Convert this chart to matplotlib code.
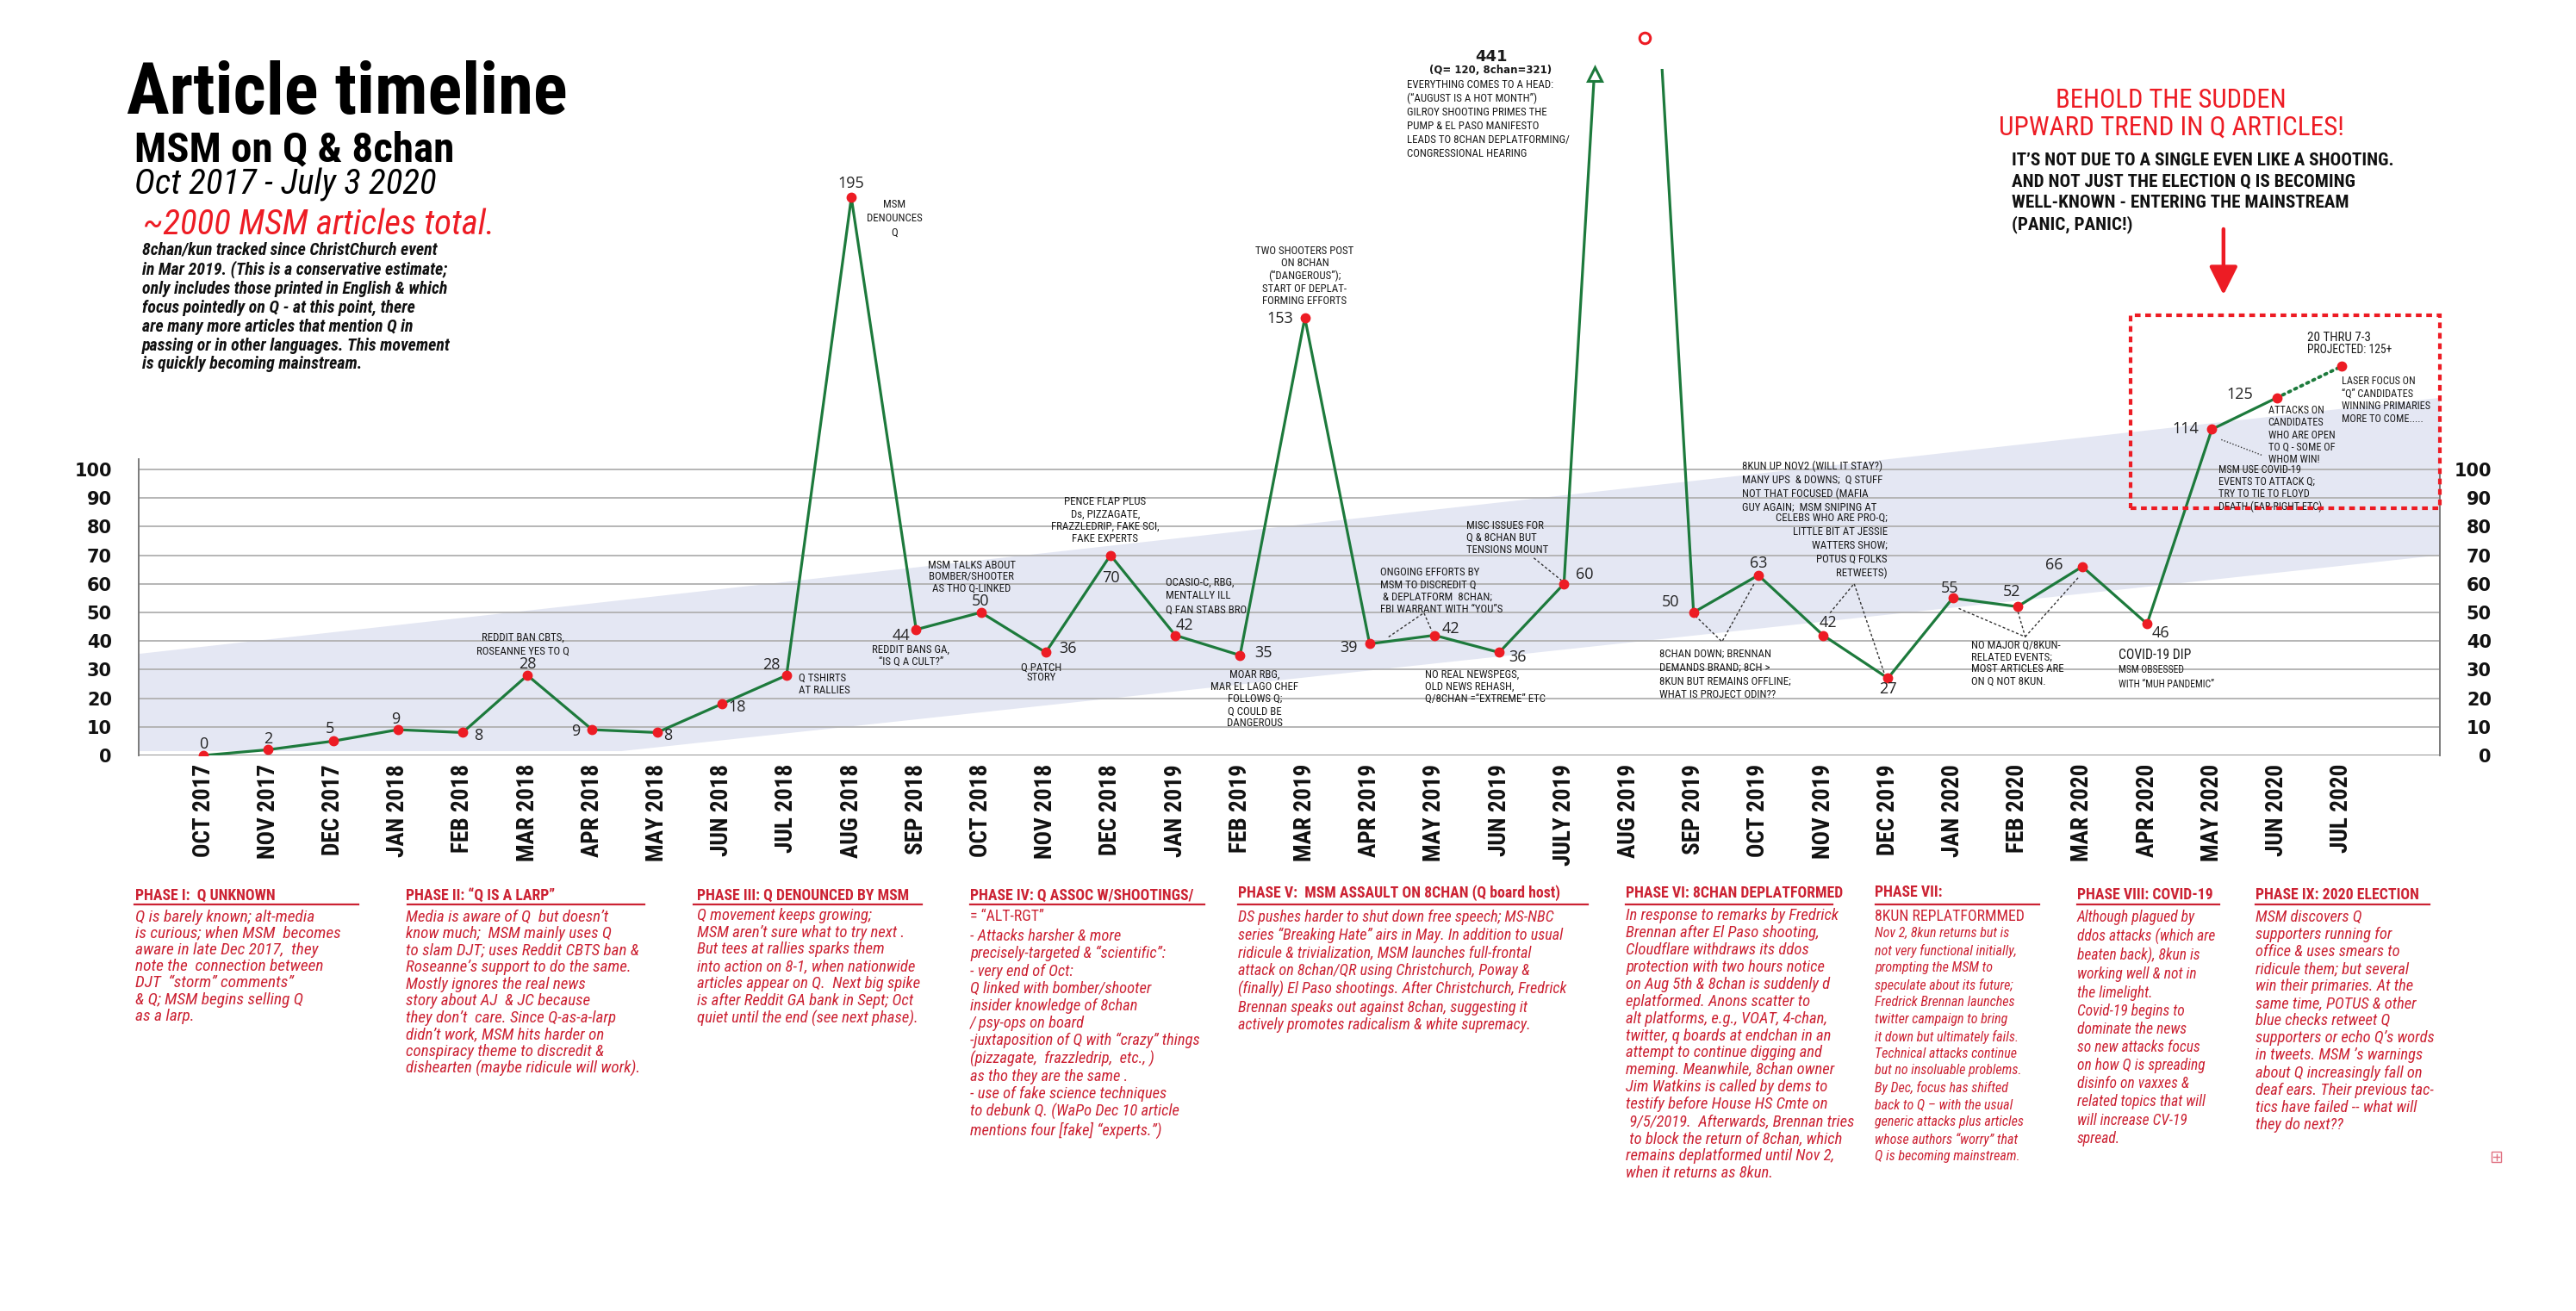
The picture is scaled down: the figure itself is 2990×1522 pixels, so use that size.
import os
import matplotlib
matplotlib.use("Agg")
import matplotlib.pyplot as plt
from matplotlib import font_manager
from matplotlib.font_manager import FontProperties
from matplotlib.patches import Polygon, Rectangle
from matplotlib.lines import Line2D
import matplotlib.transforms as mtransforms

# ----------------------------- data -----------------------------
months = ["OCT 2017", "NOV 2017", "DEC 2017", "JAN 2018", "FEB 2018", "MAR 2018",
          "APR 2018", "MAY 2018", "JUN 2018", "JUL 2018", "AUG 2018", "SEP 2018",
          "OCT 2018", "NOV 2018", "DEC 2018", "JAN 2019", "FEB 2019", "MAR 2019",
          "APR 2019", "MAY 2019", "JUN 2019", "JULY 2019", "AUG 2019", "SEP 2019",
          "OCT 2019", "NOV 2019", "DEC 2019", "JAN 2020", "FEB 2020", "MAR 2020",
          "APR 2020", "MAY 2020", "JUN 2020", "JUL 2020"]
articles = [0, 2, 5, 9, 8, 28, 9, 8, 18, 28, 195, 44, 50, 36, 70, 42, 35, 153,
            39, 42, 36, 60, 441, 50, 63, 42, 27, 55, 52, 66, 46, 114, 125]
projected = 136                     # JUL 2020 projection ("125+")
yticks = [0, 10, 20, 30, 40, 50, 60, 70, 80, 90, 100]
band_upper = [35.5, 125]            # shaded trend channel: upper edge left / right
band_lower = [1.5, 1.5, 70]         # lower edge: left, knee, right
band_knee = 6.45

# ----------------------------- fonts -----------------------------
def _w(f):
    w = f.weight
    if isinstance(w, str):
        w = font_manager.weight_dict.get(w, 400)
    return int(w)


groups = {}
for f in font_manager.fontManager.ttflist:
    base = os.path.basename(f.fname).lower()
    key = (f.name + " " + base).lower()
    flat = base.replace("-", "").replace("_", "")
    if ("condensed" in key or "narrow" in key) and "mono" not in key and "serif" not in key \
            and "semicondensed" not in flat and "extracondensed" not in flat:
        groups.setdefault(f.name, []).append(f)

chosen = None
for pref in ["Roboto Condensed", "Liberation Sans Narrow", "Fira Sans Condensed",
             "Open Sans Condensed", "Noto Sans Condensed", "Arial Narrow", "DejaVu Sans"]:
    for g in groups:
        if g.lower().startswith(pref.lower()):
            chosen = g
            break
    if chosen:
        break
if chosen is None and groups:
    chosen = sorted(groups)[0]

if chosen:
    if "roboto" in chosen.lower():
        NS = 0.98
    elif "narrow" in chosen.lower():
        NS = 1.0
    elif "dejavu" in chosen.lower():
        NS = 0.86
    else:
        NS = 0.95
else:
    NS = 0.84


def NF(size, bold=False, italic=False):
    if chosen:
        best, score = None, 1e9
        for f in groups[chosen]:
            it = f.style in ("italic", "oblique")
            sc = abs(_w(f) - (700 if bold else 400)) + (0 if it == italic else 1000)
            if sc < score:
                best, score = f, sc
        return FontProperties(fname=best.fname, size=size)
    return FontProperties(family=["Liberation Sans", "DejaVu Sans"],
                          weight="bold" if bold else "normal",
                          style="italic" if italic else "normal", size=size)


names = {f.name for f in font_manager.fontManager.ttflist}
NUMF = "Open Sans" if "Open Sans" in names else "DejaVu Sans"

W, H, DPI = 2990, 1522, 100
PT = 72.0 / DPI
RED = "#ed1c24"
PRED = "#cc2233"
GREEN = "#1d7a3c"
INK = "#1a1a1a"

fig = plt.figure(figsize=(W / DPI, H / DPI), dpi=DPI)
fig.patch.set_facecolor("white")

AX_L, AX_R, AX_B, AX_T = 161, 2832, 877, 80
ax = fig.add_axes([AX_L / W, 1 - AX_B / H, (AX_R - AX_L) / W, (AX_B - AX_T) / H])
XLIM = (-1.0, 34.52)
YLIM = (0, 240)
ax.set_xlim(*XLIM)
ax.set_ylim(*YLIM)
XS = (AX_R - AX_L) / (XLIM[1] - XLIM[0])
YS = (AX_B - AX_T) / (YLIM[1] - YLIM[0])


def fx(x):
    return x / W


def fy(y):
    return 1 - y / H


def empx(size):
    return size / PT


def lsp(step_px, size):
    return max(0.5, (step_px / empx(size) - 0.21) / 0.74)


# ----------------------------- chart body -----------------------------
band = Polygon([(XLIM[0], band_upper[0]), (XLIM[1], band_upper[1]),
                (XLIM[1], band_lower[2]), (band_knee, band_lower[1]),
                (XLIM[0], band_lower[0])], closed=True, fc="#e4e7f3", ec="none",
               zorder=0.5)
ax.add_patch(band)

for v in yticks:
    ax.axhline(v, color="#8a8a8a" if v == 0 else "#b0b0b0",
               lw=2.0 if v == 0 else 1.3, zorder=1)

for s in ["top", "bottom"]:
    ax.spines[s].set_visible(False)
ax.spines["left"].set_bounds(0, 103.5)
ax.spines["right"].set_bounds(0, 100)
for s in ["left", "right"]:
    ax.spines[s].set_color("#7a7a7a")
    ax.spines[s].set_linewidth(1.4)

idx = list(range(len(months)))
ax.set_xticks(idx)
ax.set_xticklabels(months, rotation=90, ha="center", va="top",
                   fontproperties=NF(20 * NS, bold=True), color="#111111")
ax.tick_params(axis="x", length=0, pad=10 * PT)

ax.set_yticks(yticks)
ax.set_yticklabels([str(v) for v in yticks], family="DejaVu Sans",
                   fontweight="bold", fontsize=15, color="#111111")
ax.tick_params(axis="y", length=0, pad=(AX_L - 130) * PT)

ax2 = ax.twinx()
ax2.set_ylim(*YLIM)
ax2.set_yticks(yticks)
ax2.set_yticklabels([str(v) for v in yticks], family="DejaVu Sans",
                    fontweight="bold", fontsize=15, color="#111111")
ax2.tick_params(axis="y", length=0, pad=(2892 - AX_R) * PT)
for lab in ax2.get_yticklabels():
    lab.set_ha("right")
for s in ax2.spines.values():
    s.set_visible(False)

# main series (the 441 peak runs off the top and is clipped)
n = len(articles)
ax.plot(idx[:n], articles, color=GREEN, lw=2.3, zorder=3, solid_joinstyle="round")
ax.plot([idx[n - 1], idx[n]], [articles[-1], projected], color=GREEN, lw=2.8,
        ls=(0, (0.6, 1.4)), dash_capstyle="round", zorder=3)
px_ = [i for i, v in enumerate(articles) if v <= YLIM[1]] + [idx[n]]
py_ = [v for v in articles if v <= YLIM[1]] + [projected]
ax.plot(px_, py_, ls="none", marker="o", color=RED, ms=7.5, zorder=4)

pk = articles.index(max(articles))
top = YLIM[1]
left_x = (pk - 1) + (top - articles[pk - 1]) / (articles[pk] - articles[pk - 1])
right_x = pk + (top - articles[pk]) / (articles[pk + 1] - articles[pk])
tri_tr = mtransforms.offset_copy(ax.transData, fig=fig, y=-6, units="dots")
ax.plot([left_x], [top], transform=tri_tr, marker="^", ms=12, mfc="white",
        mec=GREEN, mew=2.2, ls="none", clip_on=False, zorder=5)
blend = mtransforms.blended_transform_factory(ax.transData, ax.transAxes)
ax.plot([(left_x + right_x) / 2 + 0.25], [1 + 36 / (AX_B - AX_T)], transform=blend,
        marker="o", ms=9, mfc="white", mec=RED, mew=2.2, ls="none",
        clip_on=False, zorder=5)

label_off = [(0, -13), (0, -12), (-4, -14), (-3, -12), (18, 4), (0, -13), (-19, 2),
             (13, 4), (18, 4), (-18, -12), (0, -16), (-17, 7), (0, -13), (26, -4),
             (0, 26), (11, -12), (27, -3), (-29, 1), (-24, 5), (19, -8), (21, 6),
             (24, -11), None, (-27, -12), (0, -14), (6, -15), (0, 13), (-3, -11),
             (-7, -17), (-33, -2), (16, 11), (-30, 0), (-43, -4)]
for i, v in enumerate(articles):
    off = label_off[i]
    if off is None:
        continue
    ax.annotate(str(v), xy=(i, v), xytext=(off[0] * PT, -off[1] * PT),
                textcoords="offset points", ha="center", va="center",
                fontsize=13, family=NUMF, color="#222222", zorder=6,
                annotation_clip=False)


# ----------------------------- annotations -----------------------------
def note(i, yv, text, dx, dy_center, ha="left", size=9.5, step=13.5, color=INK,
         bold=False, family=None):
    s = size * NS if family is None else size
    topoff = dy_center - 0.39 * empx(s)
    kw = dict(fontproperties=NF(s, bold=bold)) if family is None else \
        dict(family=family, fontsize=s, fontweight="bold" if bold else "normal")
    ax.annotate(text, xy=(i, yv), xytext=(dx * PT, -topoff * PT),
                textcoords="offset points", ha=ha, va="top",
                multialignment=ha, color=color, linespacing=lsp(step, s),
                zorder=6, annotation_clip=False, **kw)


note(5, articles[5], "REDDIT BAN CBTS,\nROSEANNE YES TO Q", -5, -45, ha="center", step=15)
note(9, articles[9], "Q TSHIRTS\nAT RALLIES", 14, 2, step=13)
note(10, articles[10], "MSM\nDENOUNCES\nQ", 50, 7, ha="center", step=15)
note(11, articles[11], "REDDIT BANS GA,\n“IS Q A CULT?”", -6, 22, ha="center", step=12.5)
note(12, articles[12], "MSM TALKS ABOUT\nBOMBER/SHOOTER\nAS THO Q-LINKED", -11, -56,
     ha="center", step=12.5)
note(13, articles[13], "Q PATCH\nSTORY", -5, 16, ha="center", step=11)
note(14, articles[14], "PENCE FLAP PLUS\nDs, PIZZAGATE,\nFRAZZLEDRIP, FAKE SCI,\nFAKE EXPERTS",
     -6, -63, ha="center", step=13.5)
note(15, articles[15], "OCASIO-C, RBG,\nMENTALLY ILL\nQ FAN STABS BRO", -11, -63, step=15)
note(16, articles[16], "MOAR RBG,\nMAR EL LAGO CHEF\nFOLLOWS Q;\nQ COULD BE\nDANGEROUS",
     17, 21, ha="center", step=13.4)
note(17, articles[17], "TWO SHOOTERS POST\nON 8CHAN\n(“DANGEROUS”);\nSTART OF DEPLAT-\nFORMING EFFORTS",
     0, -79, ha="center", step=13.7)
note(18, articles[18], "ONGOING EFFORTS BY\nMSM TO DISCREDIT Q\n & DEPLATFORM  8CHAN;\nFBI WARRANT WITH “YOU”S",
     12, -84, step=13.3)
note(21, articles[21], "MISC ISSUES FOR\nQ & 8CHAN BUT\nTENSIONS MOUNT", -113, -69, step=13.3)
note(20, articles[20], "NO REAL NEWSPEGS,\nOLD NEWS REHASH,\nQ/8CHAN =“EXTREME” ETC", -86, 24, step=13.3)
note(23, articles[23], "8CHAN DOWN; BRENNAN\nDEMANDS BRAND; 8CH >\n8KUN BUT REMAINS OFFLINE;\nWHAT IS PROJECT ODIN??",
     -40, 47, step=15)
note(24, articles[24], "8KUN UP NOV2 (WILL IT STAY?)\nMANY UPS  & DOWNS;  Q STUFF\nNOT THAT FOCUSED (MAFIA\nGUY AGAIN;  MSM SNIPING AT",
     -19, -128, step=15)
note(24, articles[24], "CELEBS WHO ARE PRO-Q;\nLITTLE BIT AT JESSIE\nWATTERS SHOW;\nPOTUS Q FOLKS\nRETWEETS)",
     150, -68, ha="right", step=15)
note(28, articles[28], "NO MAJOR Q/8KUN-\nRELATED EVENTS;\nMOST ARTICLES ARE\nON Q NOT 8KUN.", -54, 43, step=13.3)
note(30, articles[30], "COVID-19 DIP", -33, 35, size=11.5)
note(30, articles[30], "MSM OBSESSED\nWITH “MUH PANDEMIC”", -33, 51, size=8.5, step=15)
note(31, articles[31], "MSM USE COVID-19\nEVENTS TO ATTACK Q;\nTRY TO TIE TO FLOYD\nDEATH (FAR-RIGHT ETC)",
     8, 45, size=9, step=12.8)
note(32, articles[32], "ATTACKS ON\nCANDIDATES\nWHO ARE OPEN\nTO Q - SOME OF\nWHOM WIN!", -10, 13,
     size=9, step=12.8)
note(33, projected, "LASER FOCUS ON\n“Q” CANDIDATES\nWINNING PRIMARIES\nMORE TO COME.....", 0, 15,
     size=9, step=13.3)
note(33, projected, "20 THRU 7-3", -40, -35, size=11)
note(33, projected, "PROJECTED: 125+", -40, -21, size=10)
note(pk, top, str(max(articles)), -160, -16, ha="center", size=13, bold=True,
     family="DejaVu Sans")
note(pk, top, "(Q= 120, 8chan=321)", -160, 0, ha="center", size=8.5, bold=True,
     family="DejaVu Sans")
note(pk, top, "EVERYTHING COMES TO A HEAD:\n(“AUGUST IS A HOT MONTH”)\nGILROY SHOOTING PRIMES THE\n"
     "PUMP & EL PASO MANIFESTO\nLEADS TO 8CHAN DEPLATFORMING/\nCONGRESSIONAL HEARING",
     -258, 17, step=15)


def leader(points, style=(0, (2.2, 1.8))):
    xs = [i + dx / XS for i, _, dx, dy in points]
    ys = [v - dy / YS for _, v, dx, dy in points]
    ax.plot(xs, ys, color="#333333", lw=1.0, ls=style, zorder=2)


leader([(18, articles[18], 22, -8), (18, articles[18], 63, -36), (19, articles[19], -3, -5)])
leader([(21, articles[21], -35, -30), (21, articles[21], -3, -4)])
leader([(23, articles[23], 2, 4), (23, articles[23], 33, 34), (24, articles[24], -5, 10)])
leader([(25, articles[25], 8, -26), (25, articles[25], 36, -60), (26, articles[26], -3, -2)])
leader([(27, articles[27], 7, 12), (28, articles[28], 9, 35), (28, articles[28], 0, 4)])
leader([(28, articles[28], 9, 35), (29, articles[29], -4, 12)])
leader([(31, articles[31], 11, 12), (31, articles[31], 58, 30)], style=(0, (1, 1.5)))

ax.add_patch(Rectangle((29.75, 86.4), 34.52 - 29.75, 154 - 86.4, fill=False, ec=RED,
                       lw=3.0, ls=(0, (1.6, 1.3)), clip_on=False, zorder=6))
ax.annotate("", xy=(31.18, 161), xytext=(31.18, 184),
            arrowprops=dict(arrowstyle="-|>,head_length=1.0,head_width=0.5",
                            color=RED, lw=3.2, mutation_scale=20, shrinkA=0, shrinkB=0),
            annotation_clip=False)


# ----------------------------- headline texts -----------------------------
def ftext(x, y_first_center, text, fp, step=None, caps=False, **kw):
    s = fp.get_size_in_points()
    if step is None:
        fig.text(fx(x), fy(y_first_center), text, fontproperties=fp, va="baseline", **kw)
        return
    off = (0.39 if caps else 0.49) * empx(s)
    fig.text(fx(x), fy(y_first_center - off), text, fontproperties=fp, va="top",
             linespacing=lsp(step, s), **kw)


ftext(147, 132, "Article timeline", NF(61 * NS, bold=True), color="black")
ftext(156, 187, "MSM on Q & 8chan", NF(36 * NS, bold=True), color="black")
ftext(156, 225, "Oct 2017 - July 3 2020", NF(30 * NS, italic=True), color="black")
ftext(166, 272, "~2000 MSM articles total.", NF(30 * NS, italic=True), color=RED)
para = ("8chan/kun tracked since ChristChurch event\n"
        "in Mar 2019. (This is a conservative estimate;\n"
        "only includes those printed in English & which\n"
        "focus pointedly on Q - at this point, there\n"
        "are many more articles that mention Q in\n"
        "passing or in other languages. This movement\n"
        "is quickly becoming mainstream.")
ftext(165, 290, para, NF(14.6 * NS, bold=True, italic=True), step=21.7, color="#111111")

ftext(2520, 125, "BEHOLD THE SUDDEN", NF(22.5 * NS), color=RED, ha="center")
ftext(2520, 157, "UPWARD TREND IN Q ARTICLES!", NF(23 * NS), color=RED, ha="center")
ftext(2335, 185,
      "IT’S NOT DUE TO A SINGLE EVEN LIKE A SHOOTING.\nAND NOT JUST THE ELECTION Q IS BECOMING\n"
      "WELL-KNOWN - ENTERING THE MAINSTREAM\n(PANIC, PANIC!)",
      NF(15.5 * NS, bold=True), step=25.7, caps=True, color="#111111")

# ----------------------------- phase descriptions -----------------------------
phase_titles = ["PHASE I:  Q UNKNOWN", "PHASE II: “Q IS A LARP”", "PHASE III: Q DENOUNCED BY MSM",
                "PHASE IV: Q ASSOC W/SHOOTINGS/", "PHASE V:  MSM ASSAULT ON 8CHAN (Q board host)",
                "PHASE VI: 8CHAN DEPLATFORMED", "PHASE VII:", "PHASE VIII: COVID-19",
                "PHASE IX: 2020 ELECTION"]
phase_sub = [None, None, None, "= “ALT-RGT”", None, None, "8KUN REPLATFORMMED", None, None]
phase_body = [
    "Q is barely known; alt-media\nis curious; when MSM  becomes\naware in late Dec 2017,  they\n"
    "note the  connection between\nDJT  “storm” comments”\n& Q; MSM begins selling Q\nas a larp.",
    "Media is aware of Q  but doesn’t\nknow much;  MSM mainly uses Q\nto slam DJT; uses Reddit CBTS ban &\n"
    "Roseanne’s support to do the same.\nMostly ignores the real news\nstory about AJ  & JC because\n"
    "they don’t  care. Since Q-as-a-larp\ndidn’t work, MSM hits harder on\nconspiracy theme to discredit &\n"
    "dishearten (maybe ridicule will work).",
    "Q movement keeps growing;\nMSM aren’t sure what to try next .\nBut tees at rallies sparks them\n"
    "into action on 8-1, when nationwide\narticles appear on Q.  Next big spike\n"
    "is after Reddit GA bank in Sept; Oct\nquiet until the end (see next phase).",
    "- Attacks harsher & more\nprecisely-targeted & “scientific”:\n- very end of Oct:\n"
    "Q linked with bomber/shooter\ninsider knowledge of 8chan\n/ psy-ops on board\n"
    "-juxtaposition of Q with “crazy” things\n(pizzagate,  frazzledrip,  etc., )\nas tho they are the same .\n"
    "- use of fake science techniques\nto debunk Q. (WaPo Dec 10 article\nmentions four [fake] “experts.”)",
    "DS pushes harder to shut down free speech; MS-NBC\nseries “Breaking Hate” airs in May. In addition to usual\n"
    "ridicule & trivialization, MSM launches full-frontal\nattack on 8chan/QR using Christchurch, Poway &\n"
    "(finally) El Paso shootings. After Christchurch, Fredrick\nBrennan speaks out against 8chan, suggesting it\n"
    "actively promotes radicalism & white supremacy.",
    "In response to remarks by Fredrick\nBrennan after El Paso shooting,\nCloudflare withdraws its ddos\n"
    "protection with two hours notice\non Aug 5th & 8chan is suddenly d\neplatformed. Anons scatter to\n"
    "alt platforms, e.g., VOAT, 4-chan,\ntwitter, q boards at endchan in an\nattempt to continue digging and\n"
    "meming. Meanwhile, 8chan owner\nJim Watkins is called by dems to\ntestify before House HS Cmte on\n"
    " 9/5/2019.  Afterwards, Brennan tries\n to block the return of 8chan, which\n"
    "remains deplatformed until Nov 2,\nwhen it returns as 8kun.",
    "Nov 2, 8kun returns but is\nnot very functional initially,\nprompting the MSM to\n"
    "speculate about its future;\nFredrick Brennan launches\ntwitter campaign to bring\n"
    "it down but ultimately fails.\nTechnical attacks continue\nbut no insoluable problems.\n"
    "By Dec, focus has shifted\nback to Q – with the usual\ngeneric attacks plus articles\n"
    "whose authors “worry” that\nQ is becoming mainstream.",
    "Although plagued by\nddos attacks (which are\nbeaten back), 8kun is\nworking well & not in\n"
    "the limelight.\nCovid-19 begins to\ndominate the news\nso new attacks focus\n"
    "on how Q is spreading\ndisinfo on vaxxes &\nrelated topics that will\nwill increase CV-19\nspread.",
    "MSM discovers Q\nsupporters running for\noffice & uses smears to\nridicule them; but several\n"
    "win their primaries. At the\nsame time, POTUS & other\nblue checks retweet Q\n"
    "supporters or echo Q’s words\nin tweets. MSM ’s warnings\nabout Q increasingly fall on\n"
    "deaf ears. Their previous tac-\ntics have failed -- what will\nthey do next??",
]
phase_x = [157, 471, 809, 1126, 1437, 1887, 2176, 2411, 2618]
phase_ux = [(156, 416), (473, 748), (805, 1070), (1126, 1398), (1437, 1843),
            (1887, 2127), (2177, 2367), (2411, 2576), (2618, 2820)]
phase_hy = [1038, 1038, 1038, 1038, 1036, 1036, 1035, 1038, 1038]
phase_by = [1065, 1065, 1063, 1087, 1065, 1063, 1084, 1065, 1065]
phase_size = [14.2, 14.0, 13.8, 13.6, 13.3, 13.7, 11.8, 12.9, 13.6]

hs = 13 * NS
for k in range(len(phase_titles)):
    x = phase_x[k]
    ftext(x, phase_hy[k] + 0.36 * empx(hs), phase_titles[k], NF(hs, bold=True), color=PRED)
    u0, u1 = phase_ux[k]
    fig.add_artist(Line2D([fx(u0), fx(u1)], [fy(1050), fy(1050)], color=PRED, lw=1.6,
                          transform=fig.transFigure))
    if phase_sub[k]:
        ftext(x, 1063 + 0.36 * empx(hs), phase_sub[k], NF(hs), color=PRED)
    ftext(x, phase_by[k], phase_body[k], NF(phase_size[k] * NS, italic=True), step=19.6,
          color=PRED)

fig.add_artist(Rectangle((fx(2892), fy(1349)), 11 / W, 12 / H, fill=False, ec="#e07080",
                         lw=1.0, transform=fig.transFigure))
fig.add_artist(Line2D([fx(2894), fx(2901)], [fy(1343), fy(1343)], color="#e07080", lw=1.0,
                      transform=fig.transFigure))
fig.add_artist(Line2D([fx(2897.5), fx(2897.5)], [fy(1339.5), fy(1346.5)], color="#e07080",
                      lw=1.0, transform=fig.transFigure))

fig.savefig("out.png", dpi=DPI, facecolor="white")
